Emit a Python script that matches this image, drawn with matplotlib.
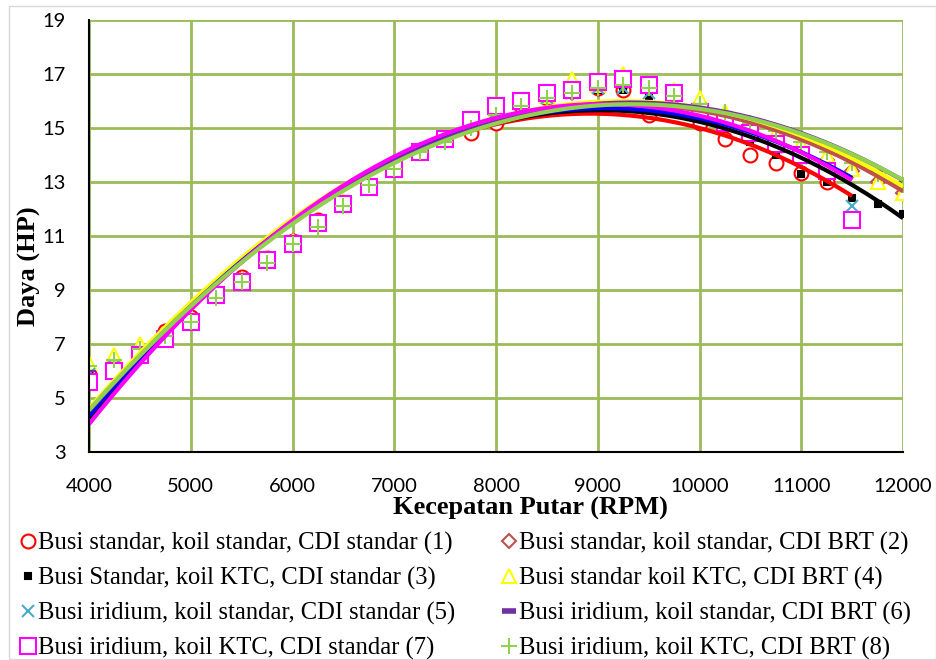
import numpy as np
import matplotlib
matplotlib.use("Agg")
import matplotlib.pyplot as plt
from matplotlib.lines import Line2D
from matplotlib.patches import Rectangle

# rpm grid of the dyno runs
rpm = [4000, 4250, 4500, 4750, 5000, 5250, 5500, 5750, 6000, 6250, 6500,
       6750, 7000, 7250, 7500, 7750, 8000, 8250, 8500, 8750, 9000, 9250,
       9500, 9750, 10000, 10250, 10500, 10750, 11000, 11250, 11500, 11750,
       12000]

# power (HP) per configuration
daya_1 = [5.9, 6.2, 6.6, 7.5, 8.0, 8.9, 9.5, 10.2, 10.8, 11.6, 12.2, 12.8,
          13.7, 14.2, 14.6, 14.8, 15.2, 15.8, 16.1, 16.4, 16.5, 16.4, 15.5,
          15.7, 15.2, 14.6, 14.0, 13.7, 13.35, 13.0, 11.6]
daya_2 = [5.8, 6.2, 6.7, 7.3, 7.9, 8.8, 9.4, 10.1, 10.8, 11.5, 12.2, 12.9,
          13.5, 14.1, 14.6, 15.1, 15.6, 15.9, 16.1, 16.3, 16.6, 16.6, 16.5,
          16.2, 15.9, 15.5, 15.0, 14.6, 14.2, 13.8, 13.4, 13.0, 12.6]
daya_3 = [5.8, 6.1, 6.6, 7.3, 7.9, 8.7, 9.4, 10.1, 10.8, 11.5, 12.2, 12.8,
          13.5, 14.1, 14.6, 15.1, 15.5, 15.9, 16.1, 16.3, 16.4, 16.4, 16.2,
          15.8, 15.4, 15.0, 14.5, 14.0, 13.3, 13.0, 12.4, 12.2, 11.8]
daya_4 = [6.3, 6.6, 7.0, 7.4, 8.0, 8.8, 9.4, 10.2, 10.8, 11.5, 12.3, 12.9,
          13.6, 14.1, 14.6, 15.2, 15.7, 16.0, 16.2, 16.8, 16.6, 17.0, 16.6,
          16.4, 16.1, 15.6, 15.2, 14.8, 14.4, 14.0, 13.5, 13.0, 12.6]
daya_5 = [5.9, 6.2, 6.7, 7.3, 7.9, 8.8, 9.4, 10.1, 10.8, 11.5, 12.2, 12.8,
          13.5, 14.1, 14.6, 15.1, 15.6, 15.9, 16.1, 16.3, 16.5, 16.5, 16.3,
          15.9, 15.5, 15.1, 14.7, 14.3, 13.9, 13.5, 12.1]
daya_6 = [6.0, 6.3, 6.8, 7.3, 7.9, 8.7, 9.4, 10.1, 10.8, 11.5, 12.2, 12.9,
          13.5, 14.1, 14.6, 15.1, 15.6, 15.9, 16.2, 16.4, 16.5, 16.6, 16.5,
          16.2, 15.9, 15.6, 15.2, 14.9, 14.5, 14.1, 13.7, 13.4, 13.0]
daya_7 = [5.6, 6.0, 6.6, 7.2, 7.8, 8.8, 9.3, 10.1, 10.7, 11.5, 12.2, 12.8,
          13.5, 14.1, 14.6, 15.3, 15.8, 16.0, 16.3, 16.4, 16.7, 16.8, 16.6,
          16.3, 15.6, 15.2, 14.8, 14.4, 14.0, 13.4, 11.6]
daya_8 = [6.2, 6.4, 6.8, 7.3, 7.8, 8.7, 9.3, 10.0, 10.7, 11.35, 12.1, 12.9,
          13.5, 14.1, 14.5, 15.0, 15.5, 15.8, 16.1, 16.3, 16.5, 16.6, 16.5,
          16.2, 15.9, 15.6, 15.2, 14.9, 14.5, 14.1, 13.7, 13.3, 12.9]

labels = ["Busi standar, koil standar, CDI standar (1)",
          "Busi standar, koil standar, CDI BRT (2)",
          "Busi Standar, koil KTC, CDI standar (3)",
          "Busi standar koil KTC, CDI BRT (4)",
          "Busi iridium, koil standar, CDI standar (5)",
          "Busi iridium, koil standar, CDI BRT (6)",
          "Busi iridium, koil KTC, CDI standar (7)",
          "Busi iridium, koil KTC, CDI BRT (8)"]

all_daya = [daya_1, daya_2, daya_3, daya_4, daya_5, daya_6, daya_7, daya_8]

# marker style, marker colour, trendline colour
styles = [
    dict(marker="o", mc="#FF0000", lc="#FF0000", ms=10, filled=False),
    dict(marker="D", mc="#C0504D", lc="#C0504D", ms=7, filled=False),
    dict(marker="s", mc="#000000", lc="#000000", ms=4, filled=True),
    dict(marker="^", mc="#FFFF00", lc="#FFFF00", ms=10, filled=False),
    dict(marker="x", mc="#4BACC6", lc="#0000FF", ms=9, filled=False),
    dict(marker="_", mc="#7030A0", lc="#7030A0", ms=10, filled=False),
    dict(marker="s", mc="#FF00FF", lc="#FF00FF", ms=11, filled=False),
    dict(marker="+", mc="#92D050", lc="#92D050", ms=12, filled=False),
]

fig = plt.figure(figsize=(9.37, 6.6), dpi=100)
ax = fig.add_axes([89 / 937, 1 - 452 / 660, (903 - 89) / 937, (452 - 20) / 660])

handles = []
for daya, st, lab in zip(all_daya, styles, labels):
    x = np.array(rpm[:len(daya)], dtype=float)
    y = np.array(daya)
    face = st["mc"] if st["filled"] else "white"
    ax.plot(x, y, linestyle="none", marker=st["marker"], ms=st["ms"],
            mfc=face, mec=st["mc"], mew=1.5, zorder=3)
    h = Line2D([], [], linestyle="none", marker=st["marker"], ms=st["ms"],
               mfc=face, mec=st["mc"], mew=1.5, label=lab)
    if st["marker"] == "_":
        h.set_markeredgewidth(4)
    handles.append(h)

# polynomial trendlines (like excel)
for daya, st in zip(all_daya, styles):
    x = np.array(rpm[:len(daya)], dtype=float)
    coef = np.polyfit(x, daya, 2)
    xs = np.linspace(x[0], x[-1], 200)
    ax.plot(xs, np.polyval(coef, xs), color=st["lc"], lw=3, zorder=4,
            solid_capstyle="butt")

ax.set_xlim(4000, 12000)
ax.set_ylim(3, 19)
ax.set_xticks(range(4000, 12001, 1000))
ax.set_yticks(range(3, 20, 2))
ax.grid(True, color="#9BBB59", lw=2)
ax.set_axisbelow(True)
for s in ["top", "right"]:
    ax.spines[s].set_visible(False)
for s in ["left", "bottom"]:
    ax.spines[s].set_linewidth(1.5)
    ax.spines[s].set_zorder(5)
ax.tick_params(length=0, labelsize=14.5)
for t in ax.get_xticklabels() + ax.get_yticklabels():
    t.set_family("Lato")
ax.tick_params(axis="x", pad=19)
ax.tick_params(axis="y", pad=17)

ax.set_xlabel("Kecepatan Putar (RPM)", family="Liberation Serif",
              fontweight="bold", fontsize=19)
ax.set_ylabel("Daya (HP)", family="Liberation Serif",
              fontweight="bold", fontsize=19)
ax.xaxis.set_label_coords(0.542, -0.105)
ax.yaxis.set_label_coords(-0.059, 0.43)

order = [0, 2, 4, 6, 1, 3, 5, 7]
fig.legend([handles[i] for i in order], [labels[i] for i in order],
           ncol=2, loc="upper left", bbox_to_anchor=(0.0233, 0.194),
           frameon=False, prop={"family": "Liberation Serif", "size": 17.7},
           handlelength=0.5, handletextpad=0.15, labelspacing=0.49,
           columnspacing=1.95, borderpad=0, borderaxespad=0)

fig.patches.append(Rectangle((9 / 937, 1 / 660), 1 - 10 / 937, 1 - 7 / 660,
                             transform=fig.transFigure, fill=False,
                             ec="#D9D9D9", lw=1))

fig.savefig("out.png", dpi=100)
